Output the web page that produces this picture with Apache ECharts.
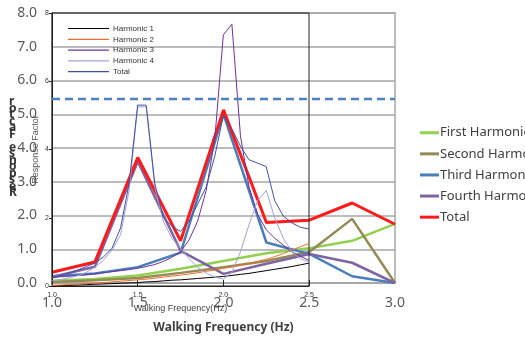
<!DOCTYPE html>
<html>
<head>
<meta charset="utf-8">
<script src="https://cdn.jsdelivr.net/npm/echarts@6/dist/echarts.min.js"></script>
<style>html,body{margin:0;padding:0;background:#fff;}#c{width:525px;height:339px;}</style>
</head>
<body>
<div id="c"></div>
<script>
// Main chart data
const freqMain = [1.0, 1.25, 1.5, 1.75, 2.0, 2.25, 2.5, 2.75, 3.0];
const firstHarmonic  = [0.07, 0.12, 0.22, 0.42, 0.65, 0.88, 1.03, 1.25, 1.75];
const secondHarmonic = [0.03, 0.08, 0.15, 0.30, 0.47, 0.65, 0.92, 1.90, 0.00];
const thirdHarmonic  = [0.20, 0.28, 0.47, 0.90, 5.00, 1.20, 0.86, 0.20, 0.00];
const fourthHarmonic = [0.18, 0.48, 3.60, 0.95, 0.27, 0.57, 0.86, 0.60, 0.00];
const totalMain      = [0.32, 0.62, 3.72, 1.25, 5.13, 1.79, 1.86, 2.37, 1.74];
const limitValue = 5.45;

// Inner (overlay) chart data
const freqInner = [1.00,1.05,1.10,1.15,1.20,1.25,1.30,1.35,1.40,1.45,1.50,1.55,1.60,1.65,1.70,1.75,1.80,1.85,1.90,1.95,2.00,2.05,2.10,2.15,2.20,2.25,2.30,2.35,2.40,2.45,2.50];
const harmonic1 = [0.00,0.01,0.02,0.03,0.04,0.05,0.06,0.07,0.08,0.09,0.10,0.12,0.13,0.15,0.17,0.18,0.20,0.22,0.24,0.26,0.28,0.31,0.34,0.37,0.41,0.45,0.49,0.53,0.57,0.62,0.67];
const harmonic2 = [0.02,0.03,0.04,0.05,0.07,0.08,0.10,0.12,0.14,0.16,0.18,0.20,0.23,0.26,0.29,0.32,0.35,0.39,0.43,0.47,0.52,0.56,0.61,0.66,0.72,0.78,0.86,0.95,1.05,1.15,1.25];
const harmonic3 = [0.25,0.27,0.29,0.31,0.33,0.36,0.39,0.42,0.45,0.48,0.52,0.57,0.63,0.72,0.84,1.00,1.35,1.90,2.80,4.30,7.36,7.67,4.40,2.90,2.10,1.65,1.40,1.20,1.00,0.87,0.75];
const harmonic4 = [0.15,0.19,0.24,0.30,0.40,0.55,0.75,1.05,1.50,2.80,5.25,5.25,2.90,1.90,1.40,1.10,0.80,0.55,0.38,0.26,0.20,0.40,1.00,1.80,2.50,2.80,2.00,1.40,1.00,0.80,0.70];
const totalInner = [0.23,0.30,0.38,0.47,0.57,0.67,0.85,1.10,1.70,3.00,5.30,5.30,3.00,2.00,1.75,1.60,1.90,2.40,2.90,3.80,5.00,4.60,4.10,3.70,3.60,3.50,2.50,2.05,1.85,1.72,1.67];

const mainNames = ['First Harmonic', 'Second Harmonic', 'Third Harmonic', 'Fourth Harmonic', 'Total'];
const innerNames = ['Harmonic 1', 'Harmonic 2', 'Harmonic 3', 'Harmonic 4', 'Total '];
const mainYName = 'Response Factor';

const pair = (xs, ys) => xs.map((x, i) => [x, ys[i]]);

const chart = echarts.init(document.getElementById('c'));

function mainLine(name, ys, color, width) {
  return { name, type: 'line', xAxisIndex: 0, yAxisIndex: 0, data: pair(freqMain, ys),
    symbol: 'none', lineStyle: { color, width }, itemStyle: { color }, z: 2, animation: false };
}
function innerLine(name, ys, color) {
  return { name, type: 'line', xAxisIndex: 1, yAxisIndex: 1, data: pair(freqInner, ys),
    symbol: 'none', lineStyle: { color, width: 1 }, itemStyle: { color }, z: 3, animation: false };
}

const stacked = mainYName.split('').reverse().join('\n');

chart.setOption({
  animation: false,
  backgroundColor: '#fff',
  grid: [
    { left: 52, right: 130, top: 13, bottom: 53, show: true, borderColor: '#a6a6a6', borderWidth: 1.5, backgroundColor: 'transparent' },
    { left: 52, right: 216, top: 13, bottom: 53, show: true, borderColor: '#222', borderWidth: 1, backgroundColor: 'transparent', z: 3 }
  ],
  xAxis: [
    { type: 'value', gridIndex: 0, min: 1, max: 3, interval: 0.5,
      axisLine: { lineStyle: { color: '#a6a6a6', width: 1.5 } }, axisTick: { show: false }, splitLine: { show: false },
      axisLabel: { fontFamily: 'Noto Sans', fontSize: 14, color: '#595959', margin: 13, formatter: v => v.toFixed(1) },
      name: 'Walking Frequency (Hz)', nameLocation: 'middle', nameGap: 39,
      nameTextStyle: { fontFamily: 'Noto Sans', fontSize: 12, fontWeight: 'bold', color: '#404040' } },
    { type: 'value', gridIndex: 1, min: 1, max: 2.5, interval: 0.5,
      axisLine: { lineStyle: { color: '#222', width: 1 } },
      axisTick: { show: true, inside: true, length: 6, lineStyle: { color: '#222' } }, splitLine: { show: false },
      axisLabel: { fontFamily: 'Liberation Sans', fontSize: 7, color: '#333', margin: 6, formatter: v => v.toFixed(1) },
      name: 'Walking Frequency(Hz)', nameLocation: 'middle', nameGap: 13,
      nameTextStyle: { fontFamily: 'Liberation Sans', fontSize: 9, color: '#444' }, z: 3 }
  ],
  yAxis: [
    { type: 'value', gridIndex: 0, min: 0, max: 8, interval: 1,
      axisLine: { show: false }, axisTick: { show: false },
      splitLine: { lineStyle: { color: '#a6a6a6', width: 1.5 } },
      axisLabel: { fontFamily: 'Noto Sans', fontSize: 14, color: '#595959', margin: 15, formatter: v => v.toFixed(1) } },
    { type: 'value', gridIndex: 1, min: 0, max: 8, interval: 2,
      axisLine: { show: true, lineStyle: { color: '#222', width: 1 } },
      axisTick: { show: true, length: 3, lineStyle: { color: '#222' } }, splitLine: { show: false },
      axisLabel: { fontFamily: 'Liberation Sans', fontSize: 7, color: '#333', margin: 3 },
      name: 'Response Factor', nameLocation: 'middle', nameGap: 12,
      nameTextStyle: { fontFamily: 'Liberation Sans', fontSize: 9, color: '#555' }, z: 3 }
  ],
  legend: [
    { data: mainNames, orient: 'vertical', left: 420, top: 126, padding: 0, icon: 'rect',
      itemWidth: 19, itemHeight: 3, itemGap: 7.6,
      textStyle: { fontFamily: 'Noto Sans', fontSize: 13, color: '#404040', lineHeight: 13.5, padding: [0, 0, 0, -4] } },
    { data: innerNames, orient: 'vertical', left: 68, top: 24.5, padding: 0, icon: 'rect',
      itemWidth: 41, itemHeight: 1.2, itemGap: 2.8,
      textStyle: { fontFamily: 'Liberation Sans', fontSize: 8, color: '#333', lineHeight: 8, padding: [0, 0, 0, -1] } }
  ],
  graphic: [
    { type: 'text', left: 9, top: 96, z: 10,
      style: { text: stacked, font: 'bold 12px "Noto Sans"', lineHeight: 6.5, fill: '#333', align: 'center' } }
  ],
  series: [
    mainLine('First Harmonic', firstHarmonic, '#92d050', 2.5),
    mainLine('Second Harmonic', secondHarmonic, '#948a54', 2.5),
    mainLine('Third Harmonic', thirdHarmonic, '#4a7ebb', 2.5),
    mainLine('Fourth Harmonic', fourthHarmonic, '#8064a2', 2.5),
    mainLine('Total', totalMain, '#ff1a1a', 3),
    { name: 'limit', type: 'line', xAxisIndex: 0, yAxisIndex: 0, data: pair([1, 3], [limitValue, limitValue]),
      symbol: 'none', lineStyle: { color: '#4f81bd', width: 2.5, type: [8, 5] }, z: 4, silent: true },
    innerLine('Harmonic 1', harmonic1, '#000000'),
    innerLine('Harmonic 2', harmonic2, '#f26b2a'),
    innerLine('Harmonic 3', harmonic3, '#7030a0'),
    innerLine('Harmonic 4', harmonic4, '#a3a3de'),
    innerLine('Total ', totalInner, '#3f51a8')
  ]
});
</script>
</body>
</html>
